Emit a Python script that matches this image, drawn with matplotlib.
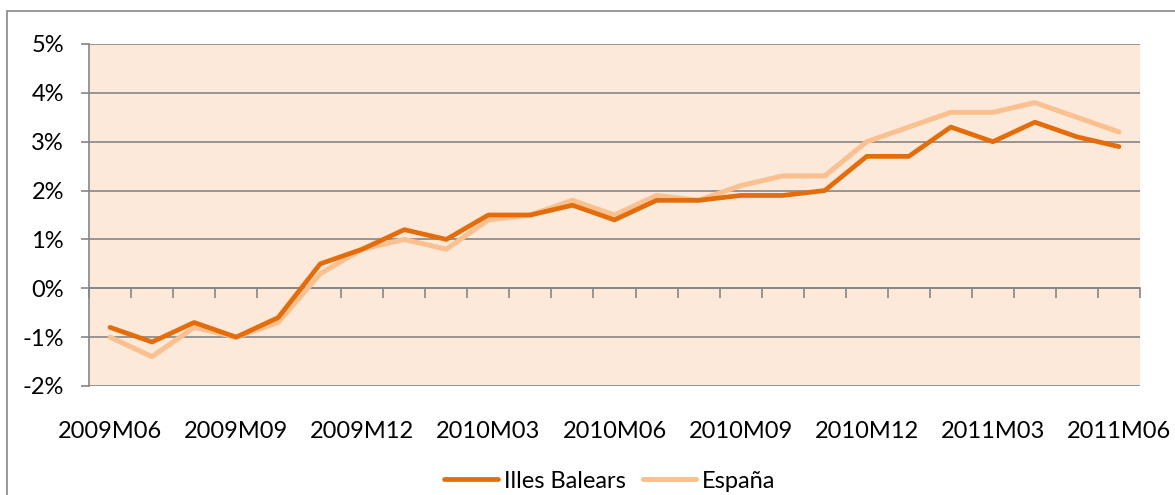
import matplotlib
matplotlib.use("Agg")
import matplotlib.pyplot as plt
from matplotlib.patches import Rectangle
import matplotlib.transforms as mtransforms

plt.rcParams['font.family'] = ['Lato', 'DejaVu Sans']

periods = ["2009M06", "2009M07", "2009M08", "2009M09", "2009M10", "2009M11", "2009M12",
           "2010M01", "2010M02", "2010M03", "2010M04", "2010M05", "2010M06", "2010M07",
           "2010M08", "2010M09", "2010M10", "2010M11", "2010M12", "2011M01", "2011M02",
           "2011M03", "2011M04", "2011M05", "2011M06"]
illes_balears = [-0.8, -1.1, -0.7, -1.0, -0.6, 0.5, 0.8, 1.2, 1.0, 1.5, 1.5, 1.7, 1.4, 1.8,
                 1.8, 1.9, 1.9, 2.0, 2.7, 2.7, 3.3, 3.0, 3.4, 3.1, 2.9]
espana = [-1.0, -1.4, -0.8, -1.0, -0.7, 0.3, 0.8, 1.0, 0.8, 1.4, 1.5, 1.8, 1.5, 1.9,
          1.8, 2.1, 2.3, 2.3, 3.0, 3.3, 3.6, 3.6, 3.8, 3.5, 3.2]
yticks = [-2, -1, 0, 1, 2, 3, 4, 5]
label_every = 3

W, H = 1175, 495
FS = 17
fig = plt.figure(figsize=(W / 100, H / 100), dpi=100)
ax = fig.add_axes([89 / W, 1 - 386 / H, (1140 - 89) / W, (386 - 44) / H])
ax.set_facecolor('#FDE9D9')

grid_c = '#868686'
x = list(range(len(periods)))
ax.plot(x, illes_balears, color='#E46C0A', lw=3.4, label='Illes Balears', solid_capstyle='round', zorder=4)
ax.plot(x, espana, color='#FAC090', lw=3.6, label='España', solid_capstyle='round', zorder=3)

ax.set_xlim(-0.5, len(periods) - 0.5)
ax.set_ylim(-2, 5)
ax.set_yticks(yticks)
ax.set_yticklabels([f"{v}%" for v in yticks], fontsize=FS)
for v in yticks:
    ax.axhline(v, color=grid_c, lw=1.2, zorder=1)

for s in ['top', 'right']:
    ax.spines[s].set_visible(False)
ax.spines['left'].set_color(grid_c)
ax.spines['left'].set_linewidth(1.2)
ax.spines['bottom'].set_position(('data', 0))
ax.spines['bottom'].set_color(grid_c)
ax.spines['bottom'].set_linewidth(1.2)
ax.tick_params(axis='y', length=6, width=1.2, color=grid_c, pad=12)
ax.set_xticks([i - 0.5 for i in range(len(periods) + 1)])
ax.set_xticklabels([])
ax.tick_params(axis='x', length=7, width=1.2, color=grid_c, direction='out')

trans = mtransforms.blended_transform_factory(ax.transData, ax.transAxes)
for i in range(0, len(periods), label_every):
    ax.text(i, -0.132, periods[i], transform=trans, ha='center', va='center', fontsize=FS)

leg = fig.legend(loc='center', bbox_to_anchor=(610 / W, 1 - 481 / H), ncol=2, frameon=False,
                 fontsize=FS, handlelength=2.25, handletextpad=0.25, columnspacing=0.75)

fig.patches.append(Rectangle((7 / W, -0.1), 1.2, 1 - 11 / H + 0.1, transform=fig.transFigure,
                             fill=False, edgecolor=grid_c, lw=1.2))

fig.savefig('out.png', dpi=100)
